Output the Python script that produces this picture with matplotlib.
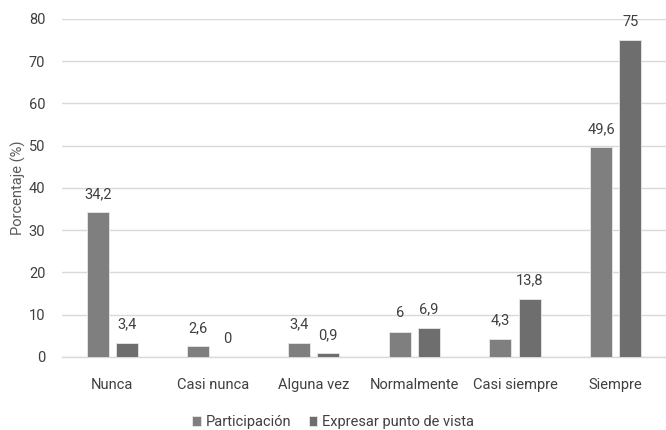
import matplotlib
matplotlib.use("Agg")
import matplotlib.pyplot as plt
import numpy as np

categories = ["Nunca", "Casi nunca", "Alguna vez", "Normalmente", "Casi siempre", "Siempre"]
participacion = [34.2, 2.6, 3.4, 6, 4.3, 49.6]
expresar = [3.4, 0, 0.9, 6.9, 13.8, 75]
series_names = ["Participación", "Expresar punto de vista"]
yticks = [0, 10, 20, 30, 40, 50, 60, 70, 80]

plt.rcParams["font.family"] = ["Roboto", "DejaVu Sans"]
text_color = "#404040"
fs = 10.5

fig = plt.figure(figsize=(6.66, 4.30), dpi=100)
ax = fig.add_axes([0.093, 0.170, 0.907, 0.786])

x = np.arange(len(categories))
w = 0.22
off = 0.145
b1 = ax.bar(x - off, participacion, w, color="#7f7f7f", edgecolor="#e8e8e8", linewidth=0.6,
            label=series_names[0], zorder=3)
b2 = ax.bar(x + off, expresar, w, color="#6e6e6e", edgecolor="#e8e8e8", linewidth=0.6,
            label=series_names[1], zorder=3)

def fmt(v):
    s = f"{v:g}"
    return s.replace(".", ",")

for xs, vals in ((x - off, participacion), (x + off, expresar)):
    for xi, v in zip(xs, vals):
        ax.annotate(fmt(v), (xi, v), xytext=(0, 8), textcoords="offset points",
                    ha="center", va="bottom", fontsize=fs, color=text_color)

ax.set_xlim(-0.5, 5.5)
ax.set_ylim(0, 80)
ax.set_yticks(yticks)
ax.set_xticks(x)
ax.set_xticklabels(categories)
ax.tick_params(axis="both", length=0, labelsize=fs, colors=text_color)
ax.tick_params(axis="x", pad=15)
ax.tick_params(axis="y", pad=12)
ax.yaxis.grid(True, color="#d9d9d9", linewidth=1.0, zorder=0)
ax.set_axisbelow(True)
for s in ("top", "right", "left"):
    ax.spines[s].set_visible(False)
ax.spines["bottom"].set_color("#d9d9d9")
ax.spines["bottom"].set_linewidth(1.0)

ax.set_ylabel("Porcentaje (%)", fontsize=fs, color="#595959", labelpad=2)

fig.legend(handles=[b1, b2], labels=series_names, loc="center", bbox_to_anchor=(0.5, 0.018),
           ncol=2, frameon=False, fontsize=fs, handlelength=0.6, handleheight=0.7,
           handletextpad=0.3, columnspacing=1.2, labelcolor=text_color)

fig.savefig("out.png", dpi=100)
